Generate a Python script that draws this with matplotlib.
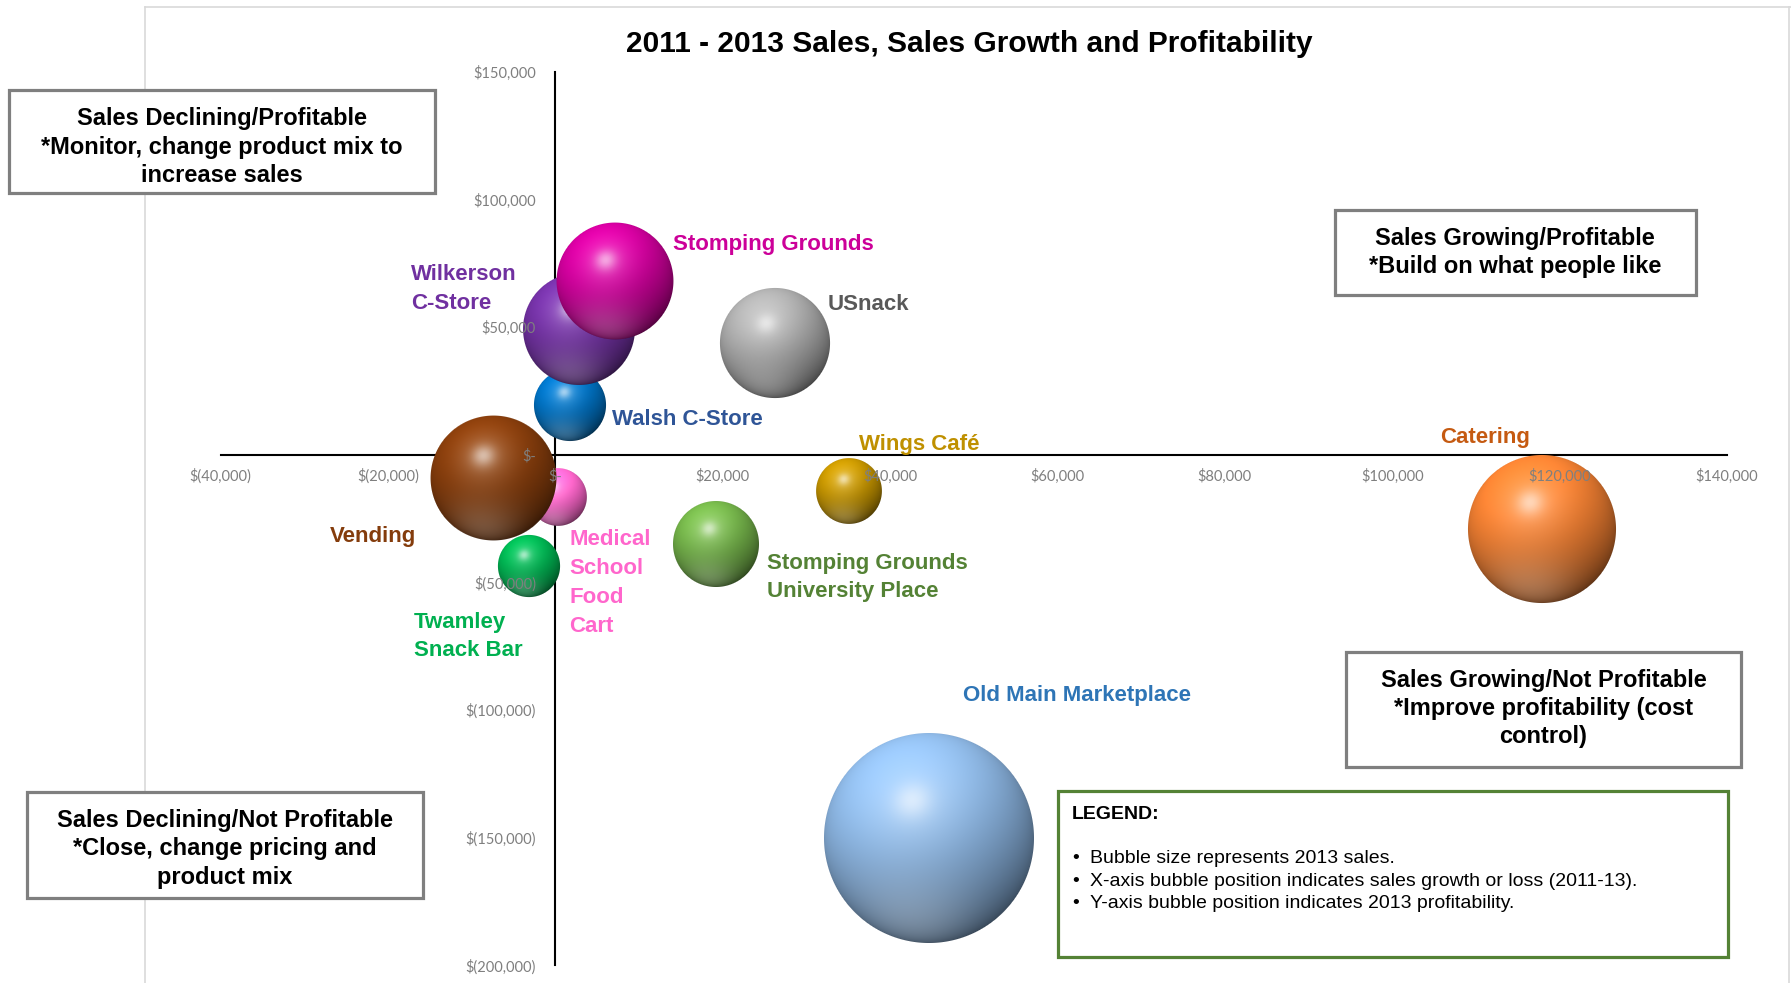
import numpy as np
import matplotlib
matplotlib.use("Agg")
import matplotlib.pyplot as plt
import matplotlib.colors as mcolors
from matplotlib.transforms import Affine2D
from matplotlib.patches import Rectangle
from matplotlib.lines import Line2D
from matplotlib.ticker import FuncFormatter
from matplotlib.offsetbox import OffsetImage, AnnotationBbox

# ---------------- data ----------------
names = ["Old Main Marketplace", "Catering", "USnack", "Stomping Grounds University Place",
         "Wings Café", "Walsh C-Store", "Wilkerson C-Store", "Stomping Grounds",
         "Medical School Food Cart", "Vending", "Twamley Snack Bar"]
label_text = ["Old Main Marketplace", "Catering", "USnack", "Stomping Grounds\nUniversity Place",
              "Wings Café", "Walsh C-Store", "Wilkerson\nC-Store", "Stomping Grounds",
              "Medical\nSchool\nFood\nCart", "Vending", "Twamley\nSnack Bar"]
sales_growth = [44660, 117910, 26310, 19180, 35100, 1700, 2890, 7170, 300, -7440, -3190]
profit_2013 = [-150140, -29270, 43800, -34870, -14180, 19510, 49290, 68100, -16530, -9090, -43760]
sales_2013 = [662000, 329000, 182000, 111000, 65000, 78000, 188000, 205000, 50000, 234000, 58000]
bubble_colors = ["#8AB3DF", "#ED7D31", "#A6A6A6", "#70AD47", "#BF9000", "#0070C0",
                 "#7030A0", "#CC0099", "#FF66CC", "#843C0C", "#00B050"]
label_colors = ["#2E75B6", "#C55A11", "#595959", "#548235", "#BF9000", "#2F5597",
                "#7030A0", "#CC0099", "#FF66CC", "#843C0C", "#00B050"]
x_ticks = list(range(-40000, 140001, 20000))
y_ticks = list(range(-200000, 150001, 50000))
title = "2011 - 2013 Sales, Sales Growth and Profitability"
quadrants = [
    "Sales Declining/Profitable\n*Monitor, change product mix to\nincrease sales",
    "Sales Growing/Profitable\n*Build on what people like",
    "Sales Growing/Not Profitable\n*Improve profitability (cost\ncontrol)",
    "Sales Declining/Not Profitable\n*Close, change pricing and\nproduct mix",
]
legend_title = "LEGEND:"
legend_items = ["Bubble size represents 2013 sales.",
                "X-axis bubble position indicates sales growth or loss (2011-13).",
                "Y-axis bubble position indicates 2013 profitability."]

# ---------------- styling / layout ----------------
W, H, DPI = 1791, 983, 100
fig = plt.figure(figsize=(W / DPI, H / DPI), dpi=DPI)
fig.patch.set_facecolor("white")
PX = Affine2D().scale(1 / W, -1 / H).translate(0, 1) + fig.transFigure

ax_l, ax_r, ax_t, ax_b = 220.5, 1727.0, 72.0, 965.2
ax = fig.add_axes([ax_l / W, 1 - ax_b / H, (ax_r - ax_l) / W, (ax_b - ax_t) / H])
ax.set_facecolor("none")
ax.set_xlim(-40000, 140000)
ax.set_ylim(-200000, 150000)

for s in ["top", "right"]:
    ax.spines[s].set_visible(False)
for s in ["left", "bottom"]:
    ax.spines[s].set_position(("data", 0))
    ax.spines[s].set_linewidth(1.5)
    ax.spines[s].set_color("black")
    ax.spines[s].set_zorder(1)


def acct(v, pos=None):
    if v == 0:
        return "$-"
    if v < 0:
        return "$({:,.0f})".format(abs(v))
    return "${:,.0f}".format(v)


ax.xaxis.set_major_locator(plt.FixedLocator(x_ticks))
ax.yaxis.set_major_locator(plt.FixedLocator(y_ticks))
ax.xaxis.set_major_formatter(FuncFormatter(acct))
ax.yaxis.set_major_formatter(FuncFormatter(acct))
ax.tick_params(axis="x", length=0, pad=10, labelsize=10.5, labelcolor="#7F7F7F")
ax.tick_params(axis="y", length=0, pad=14, labelsize=10.5, labelcolor="#7F7F7F")
for lab in ax.get_xticklabels() + ax.get_yticklabels():
    lab.set_fontfamily("Lato")
ax.xaxis.set_zorder(50)
ax.yaxis.set_zorder(50)

# ---------------- 3-D shaded bubbles ----------------
R_MAX_PX = 105.0
smax = max(sales_2013)


def _unit(v):
    v = np.asarray(v, float)
    return v / np.linalg.norm(v)


HL = _unit([-0.16, 0.36, np.sqrt(1 - 0.16 ** 2 - 0.36 ** 2)])   # half vector
VIEW = np.array([0.0, 0.0, 1.0])
LIGHT = _unit(2 * HL.dot(VIEW) * HL - VIEW)
REFL = _unit([-0.15, -0.75, 0.6])
CENTER_HALF = (0.5 * LIGHT[2] + 0.5) ** 2


def sphere_image(color, r):
    base = np.array(mcolors.to_rgb(color))
    n = int(np.ceil(r)) * 2 + 4
    c = (n - 1) / 2.0
    yy, xx = np.mgrid[0:n, 0:n]
    u = (xx - c) / r
    v = -(yy - c) / r
    d2 = u ** 2 + v ** 2
    w = np.sqrt(np.clip(1 - d2, 0, 1))
    ndl = u * LIGHT[0] + v * LIGHT[1] + w * LIGHT[2]
    ndh = np.clip(u * HL[0] + v * HL[1] + w * HL[2], 0, 1)
    ndr = np.clip(u * REFL[0] + v * REFL[1] + w * REFL[2], 0, 1)
    half = (0.5 * ndl + 0.5) ** 2
    inten = 0.28 + 0.72 * np.clip(half / CENTER_HALF, 0, 2) ** 0.6
    col = np.clip(base[None, None, :] * inten[..., None], 0, 1)
    glow = 0.22 * ndh ** 10 + 0.42 * ndh ** 60
    col = col + (1 - col) * glow[..., None]
    refl = 0.20 * ndr ** 6
    col = col + (1 - col) * refl[..., None]
    dist = np.sqrt(d2) * r
    alpha = np.clip(r - dist + 0.5, 0, 1)
    return np.dstack([np.clip(col, 0, 1), alpha])


for i in range(len(names)):
    r_px = R_MAX_PX * np.sqrt(sales_2013[i] / smax)
    img = OffsetImage(sphere_image(bubble_colors[i], r_px), zoom=1, dpi_cor=False)
    ab = AnnotationBbox(img, (sales_growth[i], profit_2013[i]), xycoords="data",
                        frameon=False, pad=0, box_alignment=(0.5, 0.5))
    ab.set_zorder(3 + i)
    ax.add_artist(ab)

# ---------------- bubble labels ----------------
LABEL_FS = 16
LINE_PITCH = 28.8
label_offsets = {  # (dx, dy) in px from bubble centre to label block centre, alignment
    "Old Main Marketplace": (33.5, 145, "left"),
    "Catering": (-102, 94.5, "left"),
    "USnack": (52.5, 41, "left"),
    "Stomping Grounds University Place": (51.6, -31.2, "left"),
    "Wings Café": (10, 49.3, "left"),
    "Walsh C-Store": (42.5, -11.7, "left"),
    "Wilkerson C-Store": (-168.5, 42.5, "left"),
    "Stomping Grounds": (57.4, 39, "left"),
    "Medical School Food Cart": (11.5, -83.4, "left"),
    "Vending": (-77, -56, "right"),
    "Twamley Snack Bar": (-114.6, -67.5, "left"),
}
cap_shift = 0.36 * LABEL_FS * DPI / 72
for i, nm in enumerate(names):
    dx, dy, ha = label_offsets[nm]
    lines = label_text[i].split("\n")
    n = len(lines)
    for k, ln in enumerate(lines):
        yy = dy + (n - 1) / 2 * LINE_PITCH - k * LINE_PITCH - cap_shift
        ax.annotate(ln, xy=(sales_growth[i], profit_2013[i]), xycoords="data",
                    xytext=(dx, yy), textcoords="offset pixels",
                    ha=ha, va="baseline", fontsize=LABEL_FS, fontweight="bold",
                    fontfamily="Liberation Sans", color=label_colors[i],
                    zorder=40, annotation_clip=False)

# ---------------- chart area border ----------------
fig.add_artist(Line2D([145, 145], [7, 983], transform=PX, color="#D9D9D9", lw=1.2))
fig.add_artist(Line2D([145, 1791], [7, 7], transform=PX, color="#D9D9D9", lw=1.2))
fig.add_artist(Line2D([1789, 1789], [7, 983], transform=PX, color="#D9D9D9", lw=1.2))

# ---------------- title ----------------
TITLE_FS = 21.5
fig.text(969.5, 41 + 0.36 * TITLE_FS * DPI / 72, title, transform=PX, ha="center",
         va="baseline", fontsize=TITLE_FS, fontweight="bold", fontfamily="Liberation Sans",
         color="black")

# ---------------- quadrant boxes ----------------
QFS = 17
QPITCH = 28.3
quad_boxes = [  # x0, y0, x1, y1, first line centre y
    (9, 90, 434.5, 192.5, 117),
    (1334.5, 210, 1695.5, 295, 236),
    (1346, 652, 1741, 767, 678),
    (27, 792, 423, 898, 818.5),
]
for txt, (x0, y0, x1, y1, ly) in zip(quadrants, quad_boxes):
    fig.add_artist(Rectangle((x0, y0), x1 - x0, y1 - y0, transform=PX, facecolor="white",
                             edgecolor="#7F7F7F", lw=2.3, zorder=60))
    for k, ln in enumerate(txt.split("\n")):
        fig.text((x0 + x1) / 2, ly + k * QPITCH + 0.36 * QFS * DPI / 72, ln, transform=PX,
                 ha="center", va="baseline", fontsize=QFS, fontweight="bold",
                 fontfamily="Liberation Sans", color="black", zorder=61)

# ---------------- legend box ----------------
LFS = 14
fig.add_artist(Rectangle((1058, 791), 670, 166, transform=PX, facecolor="white",
                         edgecolor="#548235", lw=2.3, zorder=60))
fig.text(1072, 811.7 + 0.36 * LFS * DPI / 72, legend_title, transform=PX, ha="left",
         va="baseline", fontsize=LFS, fontweight="bold", fontfamily="Liberation Sans",
         color="black", zorder=61)
for k, item in enumerate(legend_items):
    yb = 856 + k * 22.5 + 0.36 * LFS * DPI / 72
    fig.text(1072, yb, "\u2022", transform=PX, ha="left", va="baseline", fontsize=LFS,
             fontfamily="Liberation Sans", color="black", zorder=61)
    fig.text(1090, yb, item, transform=PX, ha="left", va="baseline", fontsize=LFS,
             fontfamily="Liberation Sans", color="black", zorder=61)

fig.savefig("out.png", dpi=DPI)
